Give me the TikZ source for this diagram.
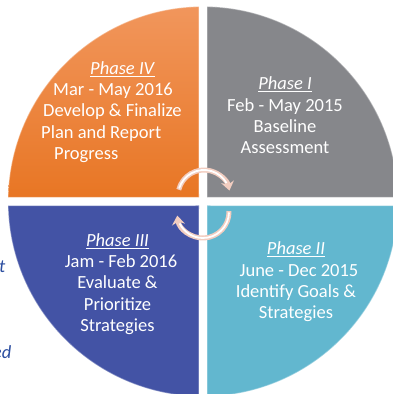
\documentclass[tikz,border=0pt]{standalone}
\usepackage{fontspec}
\setmainfont{Carlito}
\usetikzlibrary{arrows.meta, calc}

\definecolor{phaseorangetop}{RGB}{241,150,92}
\definecolor{phaseorange}{RGB}{232,118,36}
\definecolor{phasegray}{RGB}{134,135,139}
\definecolor{phaseteal}{RGB}{98,183,207}
\definecolor{phaseblue}{RGB}{67,83,165}
\definecolor{arrowpink}{RGB}{242,205,192}
\definecolor{sidenote}{RGB}{44,78,160}

\begin{document}
\begin{tikzpicture}[x=1pt, y=1pt,
    phasetext/.style={text=white, align=center, inner sep=0pt,
      font=\fontsize{18.5}{21.3}\selectfont},
    rim/.style={draw=white, draw opacity=.35, line width=1.2pt},
    cyclearrow/.style={draw=arrowpink, line width=5pt,
      -{Stealth[length=9pt, width=13pt]}},
    cyclecore/.style={draw=white, line width=1.8pt},
    sidetext/.style={text=sidenote, inner sep=0pt,
      font=\fontsize{18.5}{21.3}\selectfont\itshape}]
  \useasboundingbox (0,0) rectangle (393,394);
  \clip (0,0) rectangle (393,394);

  \coordinate (c) at (203,192.5);
  \coordinate (q1) at (207,196.5);
  \coordinate (q2) at (207,188.5);
  \coordinate (q3) at (199,188.5);
  \coordinate (q4) at (199,196.5);

  % four quarters, white gap between them
  \shade[top color=phaseorangetop, bottom color=phaseorange, rim]
    (q4) -- ($(c)+(178.8:195)$) arc[start angle=178.8, end angle=91.2, radius=195] -- cycle;
  \path[fill=phasegray, rim]
    (q1) -- ($(c)+(88.8:195)$) arc[start angle=88.8, end angle=1.2, radius=195] -- cycle;
  \path[fill=phaseteal, rim]
    (q2) -- ($(c)+(-1.2:195)$) arc[start angle=-1.2, end angle=-88.8, radius=195] -- cycle;
  \path[fill=phaseblue, rim]
    (q3) -- ($(c)+(268.8:195)$) arc[start angle=268.8, end angle=181.2, radius=195] -- cycle;

  \node[phasetext] (p1) at (285,278.5)
    {\underline{\textit{Phase I}}\\Feb - May 2015\\Baseline\\Assessment};
  \node[phasetext] (p2) at (296,112)
    {\underline{\textit{Phase II}}\\\hspace*{6pt}June - Dec 2015\\Identify Goals \&\\Strategies};
  \node[phasetext] (p3) at (117.5,110)
    {\underline{\textit{Phase III}}\\\hspace*{7pt}Jam - Feb 2016\\Evaluate \&\\Prioritize\\Strategies};
  \node[phasetext, align=left, anchor=west] (p4) at (41,282)
    {\hspace*{49pt}\underline{\textit{Phase IV}}\\\hspace*{12pt}Mar - May 2016\\\hspace*{2pt}Develop \& Finalize\\Plan and Report\\\hspace*{13pt}Progress};

  % cycle arrows in the middle
  \coordinate (ta) at (204,198);
  \coordinate (ba) at (203,182);
  \draw[cyclearrow] ($(ta)+(166:26)$) arc[start angle=166, end angle=12, radius=26];
  \draw[cyclecore] ($(ta)+(163:26)$) arc[start angle=163, end angle=30, radius=26];
  \draw[cyclearrow] ($(ba)+(2:26)$) arc[start angle=2, end angle=-172, radius=26];
  \draw[cyclecore] ($(ba)+(-1:26)$) arc[start angle=-1, end angle=-154, radius=26];

  % cut-off text on the left
  \node[sidetext, anchor=base east] (s1) at (5.5,121) {t};
  \node[sidetext, anchor=base east] (s2) at (11.5,35) {ed};
\end{tikzpicture}
\end{document}
